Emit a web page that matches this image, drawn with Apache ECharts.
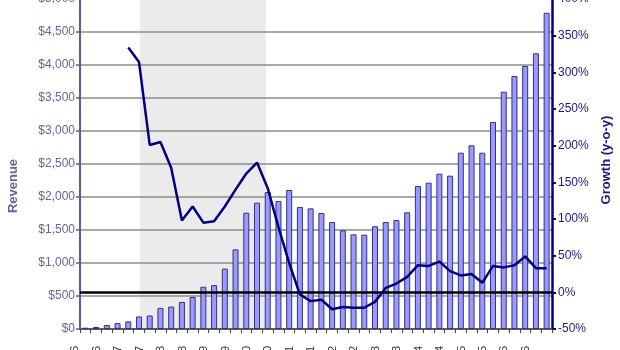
<!DOCTYPE html>
<html>
<head>
<meta charset="utf-8">
<script src="https://cdn.jsdelivr.net/npm/echarts@6/dist/echarts.min.js"></script>
<style>html,body{margin:0;padding:0;background:#fff;}#c{width:620px;height:350px;}</style>
</head>
<body>
<div id="c"></div>
<script>
var quarters = ['1Q96','2Q96','3Q96','4Q96','1Q97','2Q97','3Q97','4Q97','1Q98','2Q98','3Q98','4Q98',
  '1Q99','2Q99','3Q99','4Q99','1Q00','2Q00','3Q00','4Q00','1Q01','2Q01','3Q01','4Q01',
  '1Q02','2Q02','3Q02','4Q02','1Q03','2Q03','3Q03','4Q03','1Q04','2Q04','3Q04','4Q04',
  '1Q05','2Q05','3Q05','4Q05','1Q06','2Q06','3Q06','4Q06'];
var revenue = [20,30,60,90,115,190,205,320,340,410,485,640,
  665,915,1207,1762,1914,2076,1940,2106,1848,1828,1758,1621,
  1495,1434,1429,1556,1621,1651,1768,2167,2217,2353,2323,2671,
  2783,2671,3136,3595,3833,3985,4177,4792];
var growth = [null,null,null,null,334,314,201,205,170,98,117,95,
  97,117,140,162,177,142,89,40,-3,-12,-10,-23,
  -20,-21,-21,-13,6,12,21,37,36,42,29,23,
  25,13,36,34,37,49,33,33];
var revenueTicks = {min:0, max:5000, interval:500};
var growthTicks = {min:-50, max:400, interval:50};
var shadeStart = 5.6, shadeEnd = 17.35;

var chart = echarts.init(document.getElementById('c'));
chart.setOption({
  animation:false,
  grid:{left:80, right:68, top:-1, bottom:21, containLabel:false, outerBoundsMode:'none'},
  xAxis:[{
    type:'category', data:quarters, boundaryGap:true,
    axisLine:{show:true, lineStyle:{color:'#444', width:1.5}},
    axisTick:{show:true, interval:0, length:4, lineStyle:{color:'#444'}},
    axisLabel:{interval:1, rotate:90, margin:17, fontSize:11, color:'#333',
      fontFamily:'Liberation Sans', verticalAlign:'bottom', lineHeight:20}
  },{
    type:'value', min:0, max:quarters.length, show:false
  }],
  yAxis:[{
    type:'value', min:revenueTicks.min, max:revenueTicks.max, interval:revenueTicks.interval,
    name:'Revenue', nameLocation:'middle', nameGap:60, nameRotate:90,
    nameTextStyle:{color:'#666699', fontSize:13, fontWeight:'bold', fontFamily:'Liberation Sans', padding:[0,44,0,0]},
    axisLine:{show:true, lineStyle:{color:'#5c5c9c', width:2}},
    axisTick:{show:true, length:4, lineStyle:{color:'#5c5c9c', width:1.5}},
    axisLabel:{color:'#666699', fontSize:12, fontFamily:'Liberation Sans', margin:5,
      formatter:function(v){return '$'+v.toLocaleString('en-US');}},
    splitLine:{show:true, lineStyle:{color:'#8c8c8c', width:1.5}}
  },{
    type:'value', min:growthTicks.min, max:growthTicks.max, interval:growthTicks.interval,
    position:'right',
    name:'Growth (y-o-y)', nameLocation:'middle', nameGap:48, nameRotate:90,
    nameTextStyle:{color:'#1a1a80', fontSize:13, fontWeight:'bold', fontFamily:'Liberation Sans', padding:[0,0,0,8]},
    axisLine:{show:true, lineStyle:{color:'#000080', width:2.5}},
    axisTick:{show:true, length:4, lineStyle:{color:'#000080', width:2}},
    axisLabel:{color:'#1a1a80', fontSize:12, fontFamily:'Liberation Sans', margin:6,
      formatter:function(v){return v+'%';}},
    splitLine:{show:false}
  }],
  series:[{
    type:'line', xAxisIndex:1, yAxisIndex:0, z:-2, silent:true,
    data:[[shadeStart,0],[shadeEnd,0]], symbol:'none', lineStyle:{opacity:0},
    markArea:{silent:true, z:-5, itemStyle:{color:'#ebebeb'}, data:[[{xAxis:shadeStart},{xAxis:shadeEnd}]]}
  },{
    type:'bar', name:'Revenue', data:revenue, yAxisIndex:0, barWidth:'56%',
    itemStyle:{color:'#9999ff', borderColor:'#333380', borderWidth:1}
  },{
    type:'line', name:'Growth', data:growth, yAxisIndex:1, symbol:'none', z:5,
    lineStyle:{color:'#000080', width:2.5},
    markLine:{silent:true, symbol:'none', label:{show:false},
      lineStyle:{color:'#000', width:2.5, type:'solid'}, data:[{yAxis:0}]}
  }]
});
</script>
</body>
</html>
